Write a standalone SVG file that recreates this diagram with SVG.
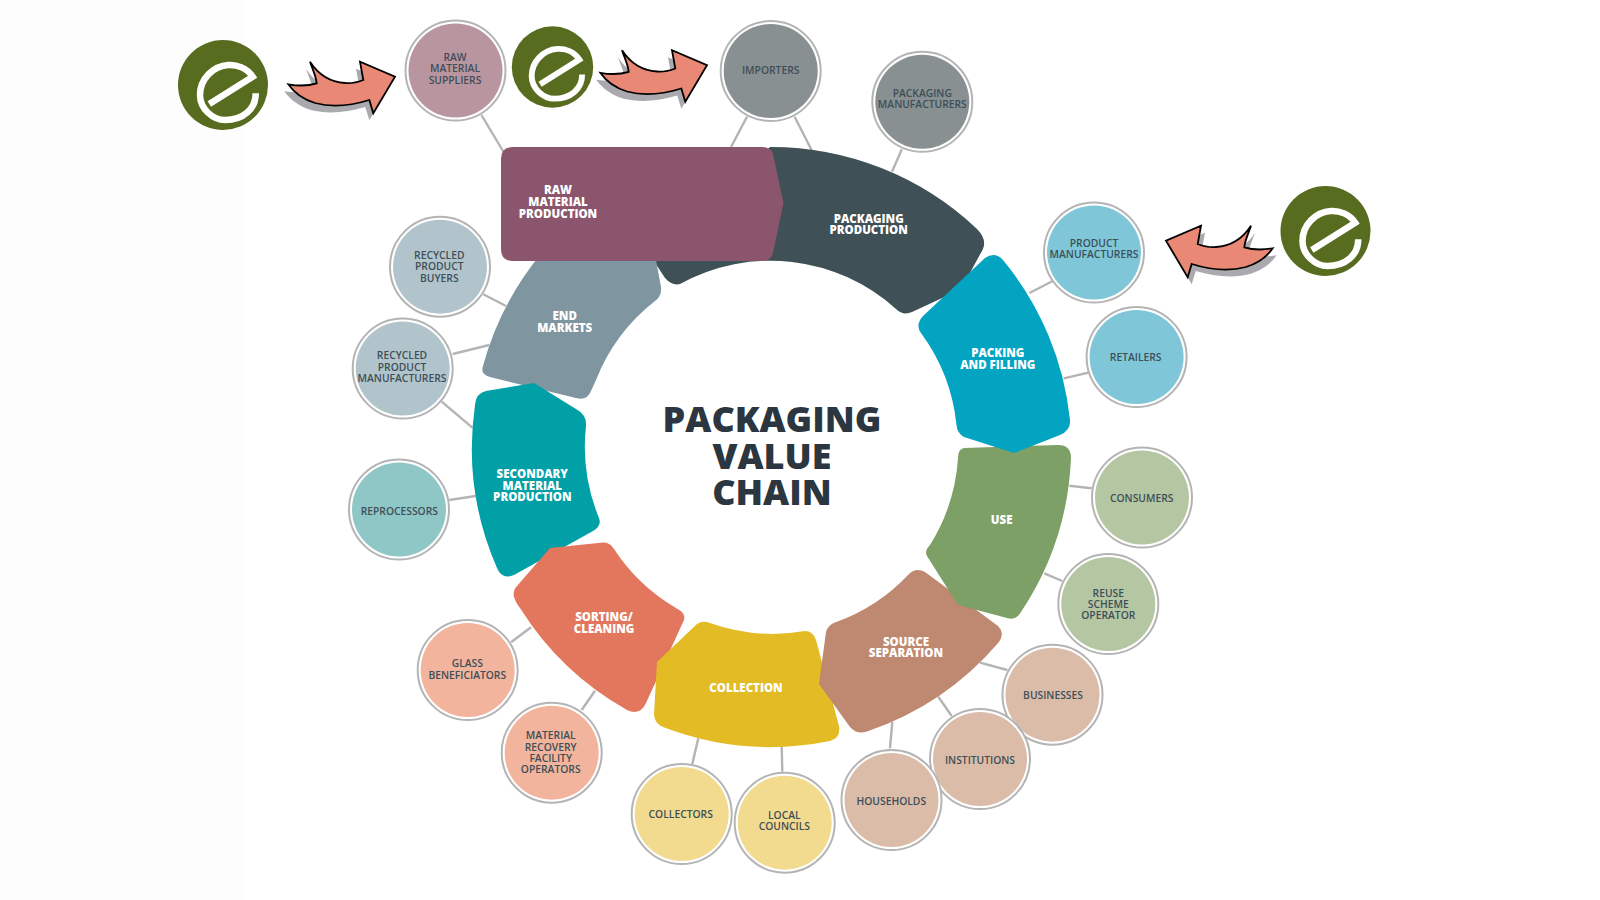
<svg xmlns="http://www.w3.org/2000/svg" xmlns:xlink="http://www.w3.org/1999/xlink" width="1600" height="900" viewBox="0 0 1600 900">
<style>
text{font-family:"Open Sans","Liberation Sans",sans-serif;text-anchor:middle}
.l{font-size:10.3px;font-weight:600;fill:#3e4f58}
.w{font-size:11.5px;font-weight:800;fill:#fff}
.t{font-size:36px;font-weight:800;fill:#2b3640}
.o{fill:#fff;stroke:#b4b4b4;stroke-width:2}
#connectors line{stroke:#b4b4b4;stroke-width:2.4}
</style>
<defs>
<g id="logo"><circle r="45" fill="#576c1f"/><path d="M-13.700 19 L29.700 -8.300 C24 -17 14 -20.500 5.300 -20 C-10 -19 -23 -6 -23 10 C-23 24 -10 35 2 35 C20 35 33 24 32.700 8.300" fill="none" stroke="#fff" stroke-width="6.500"/></g>
<path id="arrowShape" d="M288.300 84.300 C298 86 308 86 316.700 83.300 C316 76 312 68 310 61.700 C318 74 330 82 345 83 C352 84 358 82 363.300 80 L360 61.700 L395 76.700 L373.300 113.300 L369.300 100 C350 106 330 107 315 103 C305 100 295 94 288.300 84.300 Z"/>
<g id="arrow"><use href="#arrowShape" transform="translate(-4,7)" fill="#a9a9ae"/><use href="#arrowShape" fill="#e88875" stroke="#000" stroke-width="1.800"/></g>
</defs>
<rect width="1600" height="900" fill="#fff"/>
<rect width="245" height="900" fill="#fdfdfd"/>
<g id="connectors">
<line x1="481.400" y1="115" x2="503.600" y2="152"/>
<line x1="747" y1="116.700" x2="731" y2="147"/>
<line x1="794.600" y1="116.700" x2="811.600" y2="150"/>
<line x1="901.800" y1="149.300" x2="892" y2="171.700"/>
<line x1="1052.700" y1="281" x2="1029.500" y2="293"/>
<line x1="1088.400" y1="372.700" x2="1063.800" y2="378.300"/>
<line x1="1091.700" y1="488.300" x2="1069.300" y2="485.700"/>
<line x1="1062.300" y1="581" x2="1044.300" y2="573.300"/>
<line x1="1007.300" y1="670" x2="980" y2="662.700"/>
<line x1="951.700" y1="716" x2="938.300" y2="696.700"/>
<line x1="890" y1="748.300" x2="892.300" y2="721.700"/>
<line x1="782.300" y1="771.700" x2="781.700" y2="746.700"/>
<line x1="692.300" y1="764" x2="698.300" y2="738.300"/>
<line x1="581.700" y1="710" x2="595" y2="690.700"/>
<line x1="511" y1="642.300" x2="531" y2="627.300"/>
<line x1="449.300" y1="500" x2="475.700" y2="496"/>
<line x1="452.700" y1="354" x2="489.300" y2="345"/>
<line x1="441.700" y1="401.700" x2="472.300" y2="427.700"/>
<line x1="483.300" y1="294.300" x2="506" y2="306"/>
</g>
<g id="packaging-production"><path fill="#3f5056" d="M770 147 A300 300 0 0 1 977 229 Q987 239 983 249 L965 282 Q961 290 953 293 L912 312 Q903 316 896 309 A187 187 0 0 0 680 284 Q672 286 665 278 L650 255 Z"/><text class="w" x="868.700" y="222.700">PACKAGING</text><text class="w" x="868.700" y="234">PRODUCTION</text></g>
<g id="end-markets"><path fill="#7f96a0" d="M530 255 L655 255 L661 287 Q662 296 655 301 A187 187 0 0 0 596 380 L591 391 Q587 401 576 398 L490 377 Q480 374 483 366 A300 300 0 0 1 540 255 Z"/><text class="w" x="564.700" y="320">END</text><text class="w" x="564.700" y="331.500">MARKETS</text></g>
<g id="secondary-material-production"><path fill="#00a0a6" d="M534 383 L576 409 Q587 415 586 426 A187 187 0 0 0 599 518 Q602 526 593 531 L514 575 Q502 580 497 568 A300 300 0 0 1 475 405 Q476 393 486 391 Z"/><text class="w" x="532.300" y="478.300">SECONDARY</text><text class="w" x="532.300" y="489.700">MATERIAL</text><text class="w" x="532.300" y="501">PRODUCTION</text></g>
<g id="sorting-cleaning"><path fill="#e3775d" d="M550 548 L603 542.500 Q610 542 614 549 A187 187 0 0 0 676 608 Q686 613 684 620 L646 703 Q640 716 627 710 A300 300 0 0 1 520 608 Q509 594 517 586 Z"/><text class="w" x="604" y="621.300">SORTING/</text><text class="w" x="604" y="632.700">CLEANING</text></g>
<g id="collection"><path fill="#e3bc25" d="M657 662 L697 624 Q703 620 710 623 A187 187 0 0 0 805 631 Q813 631 816 640 L839 726 Q841 738 830 741 A300 300 0 0 1 663 727 Q654 723 654 714 Z"/><text class="w" x="746" y="691.700">COLLECTION</text></g>
<g id="source-separation"><path fill="#bf8870" d="M819 684 L826 632 Q828 625 835 622.500 A187 187 0 0 0 909 574 Q916 567 925 572 L998 626 Q1005 633 999 642 A300 300 0 0 1 867 731.500 Q857 735 850 727 Z"/><text class="w" x="906" y="646">SOURCE</text><text class="w" x="906" y="657.300">SEPARATION</text></g>
<g id="use-stage"><path fill="#7da066" d="M964 448 L1058 445 Q1071 445 1071 458 A300 300 0 0 1 1021 612 Q1016 621 1007 618 L962 606 Q958 605 956 602 L927 556 Q924 551 930 545 A187 187 0 0 0 958 458 Q958 449 964 448 Z"/><text class="w" x="1001.700" y="524.300">USE</text></g>
<g id="packing-filling"><path fill="#03a4c1" d="M985 258 Q995 251 1003 260 A300 300 0 0 1 1070 420 Q1071 430 1060 435 L1014 453 L964 437 Q957 433 956.500 425 A187 187 0 0 0 921 333 Q915 325 923 316 Z"/><text class="w" x="997.800" y="357.300">PACKING</text><text class="w" x="997.800" y="368.700">AND FILLING</text></g>
<g id="raw-material-production"><path fill="#8b556d" d="M513 147 L762 147 Q771 147 773 154 L783.500 203 L773 253 Q771 261 762 261 L513 261 Q501 261 501 249 L501 159 Q501 147 513 147 Z"/><text class="w" x="558" y="194.300">RAW</text><text class="w" x="558" y="206">MATERIAL</text><text class="w" x="558" y="217.700">PRODUCTION</text></g>
<g id="title"><text class="t" x="772" y="431.700">PACKAGING</text><text class="t" x="772" y="468.500">VALUE</text><text class="t" x="772" y="505">CHAIN</text></g>
<g id="raw-material-suppliers"><circle class="o" cx="455.500" cy="70.500" r="50"/><circle cx="455.500" cy="70.500" r="47" fill="#b9959f"/><text class="l" x="455" y="61">RAW</text><text class="l" x="455" y="72.300">MATERIAL</text><text class="l" x="455" y="83.600">SUPPLIERS</text></g>
<g id="importers"><circle class="o" cx="770.700" cy="71" r="50"/><circle cx="770.700" cy="71" r="47" fill="#889091"/><text class="l" x="770.700" y="74">IMPORTERS</text></g>
<g id="packaging-manufacturers"><circle class="o" cx="922.300" cy="101.800" r="50"/><circle cx="922.300" cy="101.800" r="47" fill="#889091"/><text class="l" x="922.300" y="96.700">PACKAGING</text><text class="l" x="922.300" y="107.700">MANUFACTURERS</text></g>
<g id="product-manufacturers"><circle class="o" cx="1094" cy="252.500" r="50"/><circle cx="1094" cy="252.500" r="47" fill="#7fc7d8"/><text class="l" x="1094" y="247.300">PRODUCT</text><text class="l" x="1094" y="258.300">MANUFACTURERS</text></g>
<g id="retailers"><circle class="o" cx="1136.600" cy="357" r="50"/><circle cx="1136.600" cy="357" r="47" fill="#7fc7d8"/><text class="l" x="1135.700" y="360.700">RETAILERS</text></g>
<g id="consumers"><circle class="o" cx="1142" cy="497.500" r="50"/><circle cx="1142" cy="497.500" r="47" fill="#b5c6a2"/><text class="l" x="1141.700" y="501.700">CONSUMERS</text></g>
<g id="reuse-scheme-operator"><circle class="o" cx="1108.300" cy="604" r="50"/><circle cx="1108.300" cy="604" r="47" fill="#b5c6a2"/><text class="l" x="1108.300" y="596.700">REUSE</text><text class="l" x="1108.300" y="608">SCHEME</text><text class="l" x="1108.300" y="619.300">OPERATOR</text></g>
<g id="businesses"><circle class="o" cx="1052.500" cy="694.700" r="50"/><circle cx="1052.500" cy="694.700" r="47" fill="#dabca9"/><text class="l" x="1053" y="699.300">BUSINESSES</text></g>
<g id="institutions"><circle class="o" cx="980" cy="759" r="50"/><circle cx="980" cy="759" r="47" fill="#dabca9"/><text class="l" x="980" y="764.300">INSTITUTIONS</text></g>
<g id="households"><circle class="o" cx="891.500" cy="800" r="50"/><circle cx="891.500" cy="800" r="47" fill="#dabca9"/><text class="l" x="891.300" y="805">HOUSEHOLDS</text></g>
<g id="local-councils"><circle class="o" cx="784.700" cy="822.700" r="50"/><circle cx="784.700" cy="822.700" r="47" fill="#f2da8f"/><text class="l" x="784.300" y="818.700">LOCAL</text><text class="l" x="784.300" y="830">COUNCILS</text></g>
<g id="collectors"><circle class="o" cx="681.700" cy="814" r="50"/><circle cx="681.700" cy="814" r="47" fill="#f2da8f"/><text class="l" x="680.700" y="817.700">COLLECTORS</text></g>
<g id="material-recovery-facility-operators"><circle class="o" cx="551.700" cy="752.700" r="50"/><circle cx="551.700" cy="752.700" r="47" fill="#f2b49c"/><text class="l" x="550.700" y="739.300">MATERIAL</text><text class="l" x="550.700" y="750.700">RECOVERY</text><text class="l" x="550.700" y="762">FACILITY</text><text class="l" x="550.700" y="773.300">OPERATORS</text></g>
<g id="glass-beneficiators"><circle class="o" cx="467.700" cy="670" r="50"/><circle cx="467.700" cy="670" r="47" fill="#f2b49c"/><text class="l" x="467.300" y="667.300">GLASS</text><text class="l" x="467.300" y="678.700">BENEFICIATORS</text></g>
<g id="reprocessors"><circle class="o" cx="399" cy="509.500" r="50"/><circle cx="399" cy="509.500" r="47" fill="#8fc7c7"/><text class="l" x="399.300" y="515">REPROCESSORS</text></g>
<g id="recycled-product-manufacturers"><circle class="o" cx="402.700" cy="368.500" r="50"/><circle cx="402.700" cy="368.500" r="47" fill="#b2c4cb"/><text class="l" x="402" y="359.300">RECYCLED</text><text class="l" x="402" y="370.700">PRODUCT</text><text class="l" x="402" y="382">MANUFACTURERS</text></g>
<g id="recycled-product-buyers"><circle class="o" cx="440" cy="266.700" r="50"/><circle cx="440" cy="266.700" r="47" fill="#b2c4cb"/><text class="l" x="439.300" y="259">RECYCLED</text><text class="l" x="439.300" y="270.300">PRODUCT</text><text class="l" x="439.300" y="281.700">BUYERS</text></g>
<g id="logo-1"><use href="#logo" transform="translate(223,85)"/></g>
<g id="logo-2"><use href="#logo" transform="translate(552.500,67) scale(.905)"/></g>
<g id="logo-3"><use href="#logo" transform="translate(1325.500,231)"/></g>
<g id="arrow-1"><use href="#arrow"/></g>
<g id="arrow-2"><use href="#arrow" transform="translate(312,-11.500)"/></g>
<g id="arrow-3"><use href="#arrow" transform="translate(1561,164) scale(-1,1)"/></g>
</svg>
